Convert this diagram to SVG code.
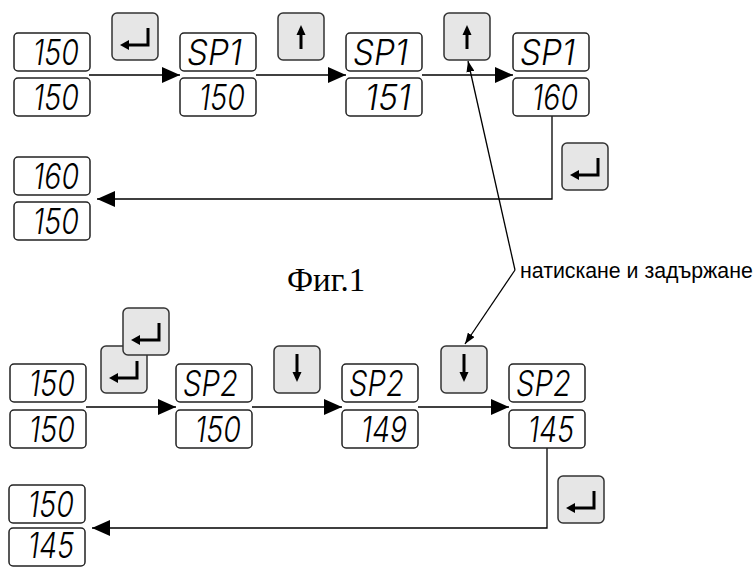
<svg xmlns="http://www.w3.org/2000/svg" width="755" height="569" viewBox="0 0 755 569">
  <style>
    .disp { fill: #ffffff; stroke: #222222; stroke-width: 1.5; }
    .key { fill: #e6e6e6; stroke: #333333; stroke-width: 1.5; }
    .sym { fill: none; stroke: #000000; stroke-width: 3; stroke-linecap: butt; }
    .seg { font-family: Inter, "DejaVu Sans", sans-serif; font-weight: 300; font-style: italic; font-size: 36px; fill: #000000; }
    .wire { fill: none; stroke: #000000; stroke-width: 1.3; }
    .lbl { font-family: "Liberation Sans", Arial, sans-serif; font-size: 21.3px; fill: #000000; }
    .fig { font-family: "Liberation Serif", "Times New Roman", serif; font-size: 33px; fill: #000000; }
  </style>
  <defs>
    <marker id="arrow" markerUnits="userSpaceOnUse" markerWidth="18" markerHeight="16" refX="18" refY="8" orient="auto">
      <path d="M0,0 L18,8 L0,16 Z" fill="#000000"/>
    </marker>
    <marker id="arrowSmall" markerUnits="userSpaceOnUse" markerWidth="11" markerHeight="8" refX="11" refY="4" orient="auto">
      <path d="M0,0 L11,4 L0,8 Z" fill="#000000"/>
    </marker>
    <!-- key symbols, drawn in a 46x47 key cell -->
    <g id="enterSym">
      <path class="sym" d="M36,15 V32 H15"/>
      <path d="M8,32 L17,27 L17,37 Z" fill="#000000"/>
    </g>
    <g id="upSym">
      <path class="sym" d="M23,21 V36"/>
      <path d="M23,12 L18.5,22 L27.5,22 Z" fill="#000000"/>
    </g>
    <g id="downSym">
      <path class="sym" d="M23,8 V27"/>
      <path d="M23,36 L18.5,26 L27.5,26 Z" fill="#000000"/>
    </g>
    <rect id="keyCap" class="key" x="0" y="0" width="46" height="47" rx="5"/>
    <rect id="dispBox" class="disp" x="0" y="0" width="76" height="38" rx="4"/>
  </defs>

  <!-- connectors -->
  <g id="connectors">
    <path class="wire" d="M89,75 H180" marker-end="url(#arrow)"/>
    <path class="wire" d="M256,75 H346" marker-end="url(#arrow)"/>
    <path class="wire" d="M422,75 H513" marker-end="url(#arrow)"/>
    <path class="wire" d="M552,116 V199 H97" marker-end="url(#arrow)"/>

    <path class="wire" d="M86,407 H176" marker-end="url(#arrow)"/>
    <path class="wire" d="M252,407 H342" marker-end="url(#arrow)"/>
    <path class="wire" d="M418,407 H509" marker-end="url(#arrow)"/>
    <path class="wire" d="M547,448 V528 H92" marker-end="url(#arrow)"/>

    <path class="wire" d="M515,270 L468,61" marker-end="url(#arrowSmall)"/>
    <path class="wire" d="M515,270 L465,344" marker-end="url(#arrowSmall)"/>
  </g>

  <!-- top sequence: SP1 -->
  <g id="d1">
    <use href="#dispBox" x="14" y="33"/>
    <use href="#dispBox" x="14" y="78"/>
    <text class="seg" x="33" y="65" textLength="46" lengthAdjust="spacingAndGlyphs">150</text>
    <text class="seg" x="33" y="110" textLength="46" lengthAdjust="spacingAndGlyphs">150</text>
  </g>
  <g id="d2">
    <use href="#dispBox" x="180" y="33"/>
    <use href="#dispBox" x="180" y="78"/>
    <text class="seg" x="187" y="65" textLength="55" lengthAdjust="spacingAndGlyphs">SP1</text>
    <text class="seg" x="199" y="110" textLength="46" lengthAdjust="spacingAndGlyphs">150</text>
  </g>
  <g id="d3">
    <use href="#dispBox" x="346" y="33"/>
    <use href="#dispBox" x="346" y="78"/>
    <text class="seg" x="353" y="65" textLength="55" lengthAdjust="spacingAndGlyphs">SP1</text>
    <text class="seg" x="365" y="110" textLength="46" lengthAdjust="spacingAndGlyphs">151</text>
  </g>
  <g id="d4">
    <use href="#dispBox" x="513" y="33"/>
    <use href="#dispBox" x="513" y="78"/>
    <text class="seg" x="520" y="65" textLength="55" lengthAdjust="spacingAndGlyphs">SP1</text>
    <text class="seg" x="532" y="110" textLength="46" lengthAdjust="spacingAndGlyphs">160</text>
  </g>
  <g id="d5">
    <use href="#dispBox" x="14" y="157"/>
    <use href="#dispBox" x="14" y="202"/>
    <text class="seg" x="33" y="189" textLength="46" lengthAdjust="spacingAndGlyphs">160</text>
    <text class="seg" x="33" y="234" textLength="46" lengthAdjust="spacingAndGlyphs">150</text>
  </g>

  <g id="k1"><use href="#keyCap" x="112" y="13"/><use href="#enterSym" x="112" y="13"/></g>
  <g id="k2"><use href="#keyCap" x="278" y="13"/><use href="#upSym" x="278" y="13"/></g>
  <g id="k3"><use href="#keyCap" x="444" y="13"/><use href="#upSym" x="444" y="13"/></g>
  <g id="k4"><use href="#keyCap" x="562" y="143"/><use href="#enterSym" x="562" y="143"/></g>

  <!-- bottom sequence: SP2 -->
  <g id="d6">
    <use href="#dispBox" x="10" y="364"/>
    <use href="#dispBox" x="10" y="410"/>
    <text class="seg" x="29" y="396" textLength="46" lengthAdjust="spacingAndGlyphs">150</text>
    <text class="seg" x="29" y="442" textLength="46" lengthAdjust="spacingAndGlyphs">150</text>
  </g>
  <g id="d7">
    <use href="#dispBox" x="176" y="364"/>
    <use href="#dispBox" x="176" y="410"/>
    <text class="seg" x="183" y="396" textLength="55" lengthAdjust="spacingAndGlyphs">SP2</text>
    <text class="seg" x="195" y="442" textLength="46" lengthAdjust="spacingAndGlyphs">150</text>
  </g>
  <g id="d8">
    <use href="#dispBox" x="342" y="364"/>
    <use href="#dispBox" x="342" y="410"/>
    <text class="seg" x="349" y="396" textLength="55" lengthAdjust="spacingAndGlyphs">SP2</text>
    <text class="seg" x="361" y="442" textLength="46" lengthAdjust="spacingAndGlyphs">149</text>
  </g>
  <g id="d9">
    <use href="#dispBox" x="509" y="364"/>
    <use href="#dispBox" x="509" y="410"/>
    <text class="seg" x="516" y="396" textLength="55" lengthAdjust="spacingAndGlyphs">SP2</text>
    <text class="seg" x="528" y="442" textLength="46" lengthAdjust="spacingAndGlyphs">145</text>
  </g>
  <g id="d10">
    <use href="#dispBox" x="9" y="485"/>
    <use href="#dispBox" x="9" y="528"/>
    <text class="seg" x="28" y="517" textLength="46" lengthAdjust="spacingAndGlyphs">150</text>
    <text class="seg" x="28" y="558" textLength="46" lengthAdjust="spacingAndGlyphs">145</text>
  </g>

  <g id="k5"><use href="#keyCap" x="101" y="346"/><use href="#enterSym" x="101" y="346"/></g>
  <g id="k6"><use href="#keyCap" x="123" y="308"/><use href="#enterSym" x="123" y="308"/></g>
  <g id="k7"><use href="#keyCap" x="274" y="346"/><use href="#downSym" x="274" y="346"/></g>
  <g id="k8"><use href="#keyCap" x="441" y="346"/><use href="#downSym" x="441" y="346"/></g>
  <g id="k9"><use href="#keyCap" x="558" y="476"/><use href="#enterSym" x="558" y="476"/></g>

  <!-- captions -->
  <g id="caption">
    <text class="fig" x="287" y="291">Фиг.1</text>
  </g>
  <g id="note">
    <text class="lbl" x="520" y="278">натискане и задържане</text>
  </g>
</svg>
